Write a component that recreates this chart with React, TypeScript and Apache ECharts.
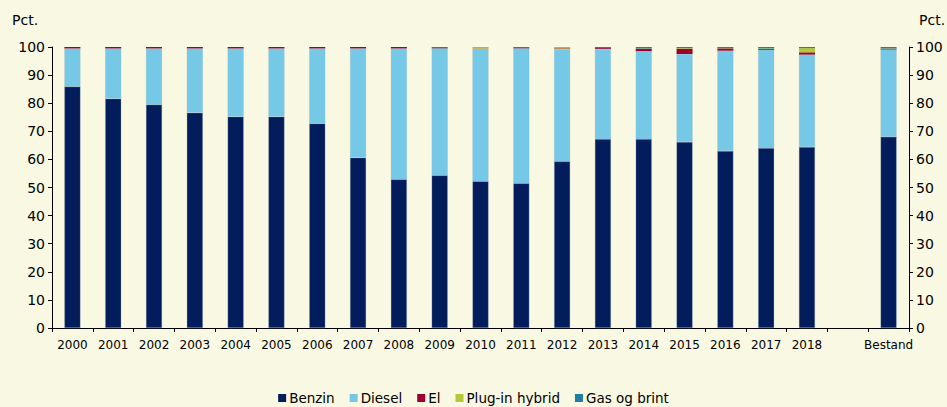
import React, { useEffect, useRef } from "react";
import * as echarts from "echarts";

const categories = ["2000","2001","2002","2003","2004","2005","2006","2007","2008","2009","2010","2011","2012","2013","2014","2015","2016","2017","2018","","Bestand"];
const benzin = [85.9,81.6,79.5,76.6,75.2,75.2,72.8,60.6,52.9,54.3,52.2,51.5,59.3,67.2,67.2,66.2,63.0,64.0,64.4,null,68.0];
const diesel = [13.6,17.9,20.0,22.9,24.3,24.3,26.7,38.9,46.6,45.1,47.2,48.0,40.0,32.1,31.3,31.3,35.7,35.0,32.9,null,31.1];
const el = [0.5,0.5,0.5,0.5,0.5,0.5,0.5,0.5,0.5,0.1,0.1,0.1,0.2,0.3,0.9,1.9,0.8,0.3,0.8,null,0.3];
const plugin = [0,0,0,0,0,0,0,0,0,0,0.4,0,0.4,0,0.1,0.2,0.1,0.2,1.5,null,0.1];
const gas = [0,0,0,0,0,0,0,0,0,0.5,0.1,0.4,0.1,0.4,0.5,0.4,0.4,0.5,0.4,null,0.5];
const yTicks = { min: 0, max: 100, interval: 10 };
const unitLabel = "Pct.";

const FONT = "DejaVu Sans";

export default function App() {
  const ref = useRef<HTMLDivElement>(null);
  useEffect(() => {
    const chart = echarts.init(ref.current!, null, { renderer: "svg" });
    const mk = (name: string, data: (number | null)[], color: string, border: boolean) => ({
      name,
      type: "bar",
      stack: "a",
      data,
      barWidth: 16,
      itemStyle: border
        ? { color, borderColor: "rgba(150,180,195,0.7)", borderWidth: 0.4 }
        : { color },
    });
    const yAxisBase = {
      type: "value",
      ...yTicks,
      splitLine: { show: false },
      axisLine: { show: true, lineStyle: { color: "#000", width: 1 } },
      axisTick: { show: true, length: 4, lineStyle: { color: "#000" } },
      axisLabel: { color: "#000", fontFamily: FONT, fontSize: 14, margin: 7 },
    };
    chart.setOption({
      animation: false,
      backgroundColor: "#F9F8E2",
      grid: { left: 52, right: 38, top: 47, bottom: 79 },
      graphic: [
        { type: "text", left: 12, top: 13, style: { text: unitLabel, fill: "#000", font: `14px '${FONT}'` } },
        { type: "text", left: 919, top: 13, style: { text: unitLabel, fill: "#000", font: `14px '${FONT}'` } },
      ],
      legend: {
        top: 386,
        left: "center",
        itemWidth: 8,
        itemHeight: 8,
        itemGap: 15,
        icon: "rect",
        itemStyle: { borderWidth: 0 },
        textStyle: { color: "#000", fontFamily: FONT, fontSize: 13.5, padding: [0, 0, 0, -2] },
        data: ["Benzin", "Diesel", "El", "Plug-in hybrid", "Gas og brint"],
      },
      xAxis: {
        type: "category",
        data: categories,
        axisLine: { lineStyle: { color: "#000", width: 1 } },
        axisTick: { show: true, length: 4, lineStyle: { color: "#000" } },
        axisLabel: { color: "#000", fontFamily: FONT, fontSize: 12, margin: 11, interval: 0 },
      },
      yAxis: [
        { ...yAxisBase, position: "left" },
        { ...yAxisBase, position: "right" },
      ],
      series: [
        mk("Benzin", benzin, "#031C5C", true),
        mk("Diesel", diesel, "#76C9E6", true),
        mk("El", el, "#9E0030", false),
        mk("Plug-in hybrid", plugin, "#B3C935", false),
        mk("Gas og brint", gas, "#1F7FA3", false),
      ],
    });
    return () => chart.dispose();
  }, []);
  return <div ref={ref} style={{ position: "fixed", left: 0, top: 0, width: 947, height: 407 }} />;
}
